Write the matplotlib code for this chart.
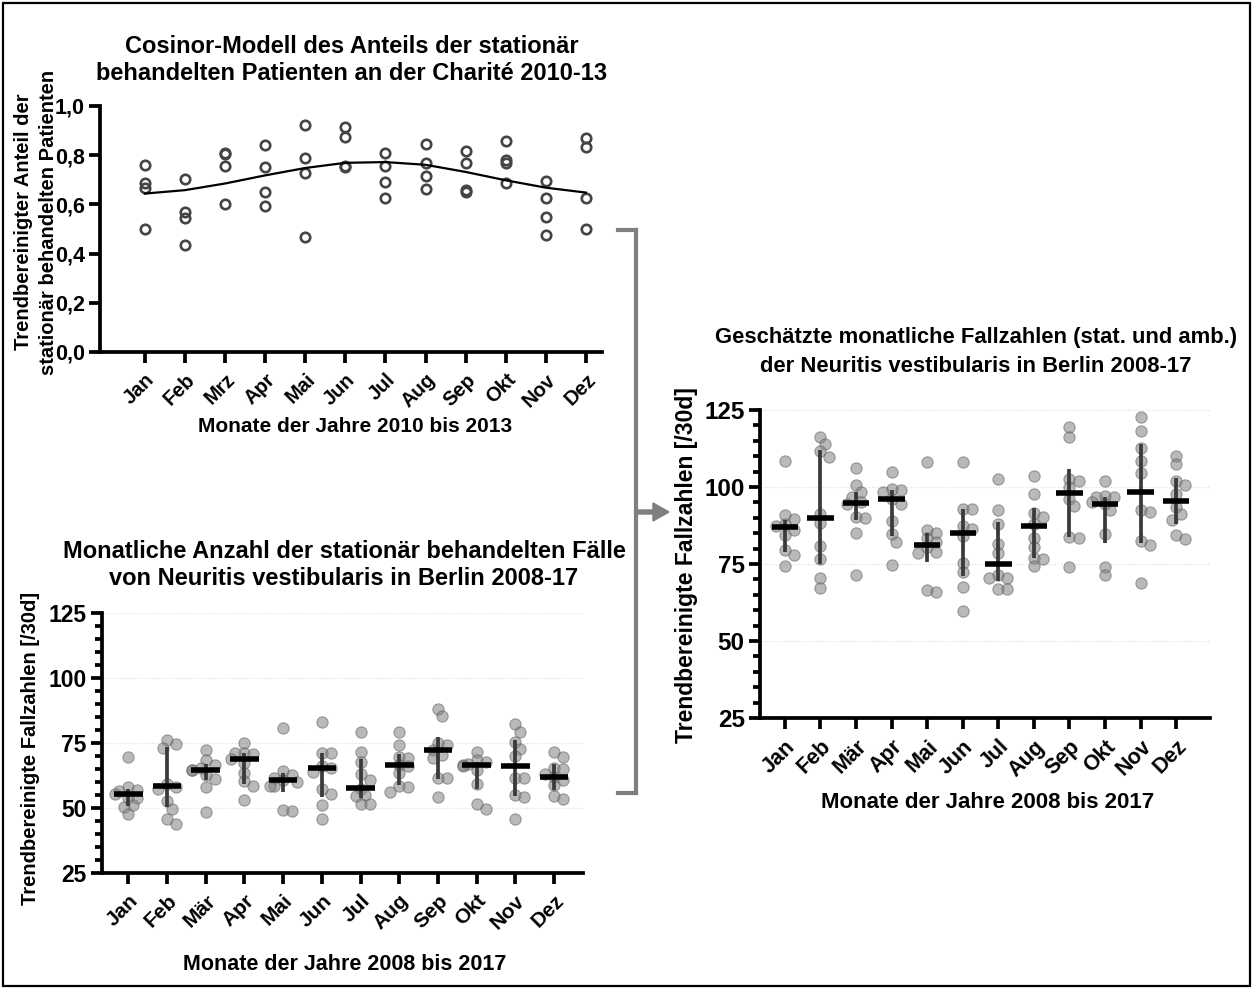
import numpy as np
import matplotlib
matplotlib.use("Agg")
import matplotlib.pyplot as plt
from matplotlib.lines import Line2D
from matplotlib.patches import FancyArrow, Rectangle

plt.rcParams['font.family'] = ['Liberation Sans', 'DejaVu Sans']
plt.rcParams['font.weight'] = 'bold'

# --- Daten ---------------------------------------------------------------
monate_a = ['Jan', 'Feb', 'Mrz', 'Apr', 'Mai', 'Jun', 'Jul', 'Aug', 'Sep', 'Okt', 'Nov', 'Dez']
monate_b = ['Jan', 'Feb', 'Mär', 'Apr', 'Mai', 'Jun', 'Jul', 'Aug', 'Sep', 'Okt', 'Nov', 'Dez']

# Anteil stationär behandelter Patienten, Charité 2010-13 (je Monat 4 Jahre)
anteil = [
    [0.761, 0.685, 0.667, 0.499],
    [0.705, 0.570, 0.546, 0.436],
    [0.809, 0.804, 0.756, 0.601],
    [0.842, 0.752, 0.651, 0.593],
    [0.923, 0.789, 0.729, 0.467],
    [0.913, 0.872, 0.758, 0.752],
    [0.809, 0.756, 0.691, 0.627],
    [0.846, 0.769, 0.715, 0.664],
    [0.816, 0.769, 0.660, 0.651],
    [0.859, 0.779, 0.769, 0.685],
    [0.694, 0.624, 0.550, 0.477],
    [0.868, 0.832, 0.628, 0.501],
]
cosinor = [0.644, 0.658, 0.685, 0.718, 0.748, 0.769, 0.772, 0.761, 0.732, 0.698, 0.668, 0.648]

# stationär behandelte Fälle Berlin 2008-17 [/30d]
stat_faelle = [
    [69.7, 58.1, 57.1, 56.5, 55.5, 54.0, 53.9, 51.3, 50.4, 47.8],
    [76.2, 74.6, 73.2, 59.4, 58.0, 57.5, 52.7, 49.7, 45.6, 43.8],
    [72.4, 68.4, 66.6, 65.5, 64.6, 64.6, 62.6, 61.3, 57.9, 48.5],
    [74.9, 71.0, 70.6, 71.0, 69.0, 67.4, 63.5, 60.3, 58.5, 53.0],
    [80.7, 64.2, 62.6, 61.7, 60.7, 60.0, 58.6, 58.5, 49.1, 48.7],
    [83.1, 71.3, 71.3, 66.0, 65.2, 64.0, 57.5, 55.5, 51.3, 45.6],
    [79.4, 71.4, 67.8, 62.9, 60.7, 57.5, 54.9, 54.5, 51.7, 51.7],
    [79.1, 74.2, 69.7, 69.3, 66.5, 66.0, 63.3, 58.5, 58.1, 56.2],
    [88.1, 85.4, 75.1, 74.2, 72.3, 70.4, 69.1, 61.7, 61.6, 54.3],
    [71.6, 68.4, 67.8, 66.9, 66.5, 66.0, 64.6, 59.4, 51.7, 49.7],
    [82.2, 79.4, 75.3, 72.7, 70.0, 61.7, 61.6, 54.9, 54.3, 45.6],
    [71.4, 69.7, 65.5, 65.0, 63.0, 62.0, 60.7, 58.8, 54.6, 53.4],
]
stat_median = [55.5, 58.6, 64.6, 68.8, 60.7, 65.2, 57.6, 66.5, 72.3, 66.5, 66.1, 61.9]
stat_oben = [57.5, 73.3, 67.1, 71.0, 63.3, 71.0, 68.8, 70.6, 77.4, 67.8, 76.2, 66.9]
stat_unten = [50.8, 50.4, 60.7, 59.4, 56.2, 54.3, 53.9, 58.8, 61.3, 57.5, 54.6, 56.8]

# geschätzte Fälle (stat. und amb.) Berlin 2008-17 [/30d]
gesamt_faelle = [
    [108.4, 91.0, 89.5, 88.0, 87.5, 86.0, 84.5, 79.5, 78.0, 74.5],
    [116.3, 113.9, 111.6, 109.6, 91.1, 88.3, 80.9, 76.5, 70.3, 67.3],
    [106.3, 100.5, 98.3, 96.9, 95.1, 94.6, 90.3, 90.0, 85.1, 71.5],
    [105.0, 99.3, 99.1, 98.5, 96.0, 94.6, 88.9, 84.7, 82.3, 74.6],
    [108.2, 86.2, 85.1, 83.3, 82.2, 80.6, 78.9, 78.7, 66.4, 65.8],
    [108.2, 93.0, 93.0, 87.2, 86.5, 84.1, 75.4, 72.5, 67.4, 59.9],
    [102.6, 92.4, 87.9, 81.5, 78.7, 71.5, 70.6, 70.4, 67.0, 67.0],
    [103.7, 97.8, 91.6, 90.2, 88.1, 83.5, 80.6, 77.0, 76.7, 74.4],
    [119.6, 116.1, 102.5, 101.9, 99.9, 96.0, 93.8, 83.8, 83.4, 74.0],
    [102.0, 97.2, 96.9, 96.7, 95.0, 94.6, 92.4, 84.7, 74.0, 71.4],
    [122.7, 118.2, 112.6, 108.4, 104.7, 92.4, 92.0, 82.4, 81.1, 68.8],
    [110.2, 107.5, 101.8, 100.8, 97.6, 93.5, 91.1, 89.4, 84.5, 83.0],
]
gesamt_median = [86.9, 89.8, 94.9, 96.2, 81.3, 85.2, 75.0, 87.2, 98.2, 94.6, 98.5, 95.5]
gesamt_oben = [89.4, 112.0, 98.5, 99.1, 85.2, 92.7, 88.7, 93.3, 106.0, 96.9, 114.1, 103.0]
gesamt_unten = [78.8, 75.0, 89.2, 84.1, 75.8, 71.2, 69.6, 77.0, 83.8, 81.9, 81.9, 88.1]

# --- Layout --------------------------------------------------------------
W, H = 1253, 989
fig = plt.figure(figsize=(W / 100, H / 100), dpi=100)


def px_box(x0, y_top, x1, y_bot):
    """Pixelkoordinaten (von oben) -> Figure-Koordinaten"""
    return [x0 / W, 1 - y_bot / H, (x1 - x0) / W, (y_bot - y_top) / H]


def px(x, y):
    return x / W, 1 - y / H


def style_axis(ax, labels, tick_fs, month_fs, minor=None):
    for s in ['top', 'right']:
        ax.spines[s].set_visible(False)
    for s in ['left', 'bottom']:
        ax.spines[s].set_linewidth(2.7)
        ax.spines[s].set_capstyle('projecting')
    ax.set_xticks(range(12))
    ax.set_xticklabels(labels, rotation=45, ha='right', rotation_mode='anchor',
                       fontsize=month_fs, fontweight='bold')
    ax.tick_params(axis='both', direction='out', width=2.7, length=8, pad=3)
    ax.tick_params(axis='y', labelsize=tick_fs)
    ax.tick_params(axis='x', pad=5)
    if minor is not None:
        ax.set_yticks(minor, minor=True)
        ax.tick_params(axis='y', which='minor', direction='out', width=2.7, length=5)
    for t in ax.get_yticklabels():
        t.set_fontweight('bold')


def swarm_offsets(values, px_per_x, px_per_y, diam=10.0):
    """einfacher Beeswarm: Punkte etwas seitlich verschieben, Überlappung ist erlaubt"""
    placed = []
    offs = []
    step = 4.5
    for v in values:
        cand = [0, step, -step, 2 * step, -2 * step, 3 * step, -3 * step]
        chosen = cand[-1]
        for c in cand:
            ok = True
            for (ox, oy) in placed:
                dx = c - ox
                dy = (v - oy) * px_per_y
                if dx * dx + dy * dy < (diam * 0.8) ** 2:
                    ok = False
                    break
            if ok:
                chosen = c
                break
        placed.append((chosen, v))
        offs.append(chosen / px_per_x)
    return offs


def dot_panel(ax, data, med, lo, hi, px_per_x, px_per_y):
    x = np.arange(12)
    for i, vals in enumerate(data):
        offs = swarm_offsets(vals, px_per_x, px_per_y)
        ax.scatter(i + np.array(offs), vals, s=66, facecolor=(0.5, 0.5, 0.5, 0.55),
                   edgecolor=(0.38, 0.38, 0.38, 0.55), linewidth=0.8, zorder=2)
    ax.vlines(x, lo, hi, color='#3a3a3a', linewidth=2.7, zorder=3)
    ax.hlines(med, x - 0.37, x + 0.37, color='black', linewidth=4.0, zorder=4)


# --- Oben links: Cosinor-Modell --------------------------------------------
ax1 = fig.add_axes(px_box(100, 106, 602, 352))
for i, vals in enumerate(anteil):
    ax1.plot([i] * len(vals), vals, 'o', markersize=6.8, markerfacecolor='none',
             markeredgecolor='#444444', markeredgewidth=1.9, zorder=3)
ax1.plot(range(12), cosinor, color='black', linewidth=1.6, zorder=4)
ax1.set_xlim(-1.12, 11.4)
ax1.set_ylim(0, 1.0)
ax1.set_yticks(np.arange(0, 1.01, 0.2))
ax1.set_yticklabels([f'{v:.1f}'.replace('.', ',') for v in np.arange(0, 1.01, 0.2)])
style_axis(ax1, monate_a, tick_fs=15.5, month_fs=14.5)

fig.text(*px(352, 60), 'Cosinor-Modell des Anteils der stationär\nbehandelten Patienten an der Charité 2010-13',
         ha='center', va='center', fontsize=17, fontweight='bold', linespacing=1.2)
fig.text(*px(36, 222), 'Trendbereinigter Anteil der\nstationär behandelten Patienten', rotation=90,
         ha='center', va='center', fontsize=14.5, fontweight='bold', linespacing=1.35)
fig.text(*px(355, 426), 'Monate der Jahre 2010 bis 2013', ha='center', va='center',
         fontsize=15, fontweight='bold')

# --- Unten links: stationäre Fälle ------------------------------------------
ax2 = fig.add_axes(px_box(101.7, 613, 583, 873))
dot_panel(ax2, stat_faelle, stat_median, stat_unten, stat_oben, 38.7, 2.6)
ax2.set_xlim(-0.69, 11.75)
ax2.set_ylim(25, 125)
ax2.set_yticks([25, 50, 75, 100, 125])
ax2.grid(axis='y', which='major', color='#dddddd', linestyle=':', linewidth=0.8)
ax2.set_axisbelow(True)
style_axis(ax2, monate_b, tick_fs=16.5, month_fs=15, minor=np.arange(25, 126, 5))

fig.text(*px(344, 565), 'Monatliche Anzahl der stationär behandelten Fälle\nvon Neuritis vestibularis in Berlin 2008-17',
         ha='center', va='center', fontsize=17, fontweight='bold', linespacing=1.25)
fig.text(*px(31, 748), 'Trendbereinigte Fallzahlen [/30d]', rotation=90,
         ha='center', va='center', fontsize=14.5, fontweight='bold')
fig.text(*px(345, 965), 'Monate der Jahre 2008 bis 2017', ha='center', va='center',
         fontsize=15.5, fontweight='bold')

# --- Rechts: geschätzte Fälle (stat. + amb.) --------------------------------
ax3 = fig.add_axes(px_box(760, 410, 1210, 718))
dot_panel(ax3, gesamt_faelle, gesamt_median, gesamt_unten, gesamt_oben, 35.5, 3.08)
ax3.set_xlim(-0.7, 11.95)
ax3.set_ylim(25, 125)
ax3.set_yticks([25, 50, 75, 100, 125])
ax3.grid(axis='y', which='major', color='#dddddd', linestyle=':', linewidth=0.8)
ax3.set_axisbelow(True)
style_axis(ax3, monate_b, tick_fs=17.5, month_fs=15.5, minor=np.arange(25, 126, 5))

fig.text(*px(976, 352), 'Geschätzte monatliche Fallzahlen (stat. und amb.)\nder Neuritis vestibularis in Berlin 2008-17',
         ha='center', va='center', fontsize=15.8, fontweight='bold', linespacing=1.55)
fig.text(*px(686, 565), 'Trendbereinigte Fallzahlen [/30d]', rotation=90,
         ha='center', va='center', fontsize=16.5, fontweight='bold')
fig.text(*px(988, 803), 'Monate der Jahre 2008 bis 2017', ha='center', va='center',
         fontsize=16, fontweight='bold')

# --- Klammer mit Pfeil ---------------------------------------------------------
grau = '#7f7f7f'
bx = 636
for (xa, ya, xb, yb) in [(bx, 230, bx, 793), (618, 230, bx, 230), (618, 793, bx, 793)]:
    (a0, a1), (b0, b1) = px(xa, ya), px(xb, yb)
    fig.add_artist(Line2D([a0, b0], [a1, b1], color=grau, linewidth=3.0, solid_capstyle='projecting'))
fig.add_artist(FancyArrow(px(bx, 512)[0], px(bx, 512)[1], 33 / W, 0, width=4 / H,
                          head_width=18 / H, head_length=16 / W, length_includes_head=True,
                          color=grau, transform=fig.transFigure))

# Rahmen um die ganze Abbildung
fig.add_artist(Rectangle((3 / W, 3 / H), 1 - 6 / W, 1 - 6 / H, fill=False, edgecolor='black',
                         linewidth=1.6, transform=fig.transFigure))

fig.savefig('out.png', dpi=100)
